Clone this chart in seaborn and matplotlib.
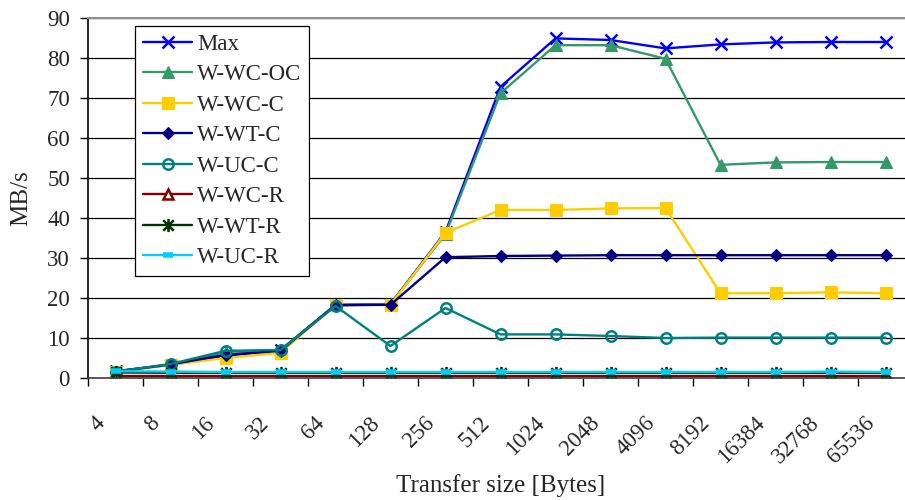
import numpy as np
import pandas as pd
import matplotlib
matplotlib.use("Agg")
import matplotlib.pyplot as plt
import matplotlib.transforms as mtransforms
from matplotlib.path import Path
import seaborn as sns

# Transfer sizes in bytes (categorical x axis)
sizes = ["4", "8", "16", "32", "64", "128", "256", "512", "1024",
         "2048", "4096", "8192", "16384", "32768", "65536"]

# Throughput in MB/s for each write variant
max_bw   = [1.7, 3.3, 5.5, 7.0, 18.3, 18.5, 36.5, 72.8, 84.9, 84.5, 82.4, 83.4, 83.9, 84.0, 84.0]
w_wc_oc  = [1.6, 3.3, 6.5, 7.0, 18.2, 18.4, 36.0, 71.2, 83.2, 83.2, 79.8, 53.3, 53.9, 54.0, 54.0]
w_wc_c   = [1.5, 3.3, 5.0, 6.3, 18.2, 18.3, 36.3, 42.0, 42.0, 42.4, 42.5, 21.2, 21.2, 21.4, 21.2]
w_wt_c   = [1.6, 3.4, 5.8, 6.8, 18.2, 18.3, 30.2, 30.5, 30.6, 30.7, 30.7, 30.7, 30.7, 30.7, 30.7]
w_uc_c   = [1.6, 3.5, 6.8, 7.0, 18.0, 8.0, 17.5, 10.9, 10.9, 10.5, 10.0, 10.1, 10.1, 10.1, 10.1]
w_wc_r   = [0.4, 0.4, 0.4, 0.4, 0.4, 0.4, 0.4, 0.4, 0.4, 0.4, 0.4, 0.4, 0.4, 0.4, 0.4]
w_wt_r   = [1.4, 1.3, 1.3, 1.3, 1.3, 1.3, 1.3, 1.3, 1.3, 1.3, 1.3, 1.3, 1.3, 1.3, 1.3]
w_uc_r   = [1.7, 1.6, 1.5, 1.5, 1.5, 1.5, 1.5, 1.5, 1.5, 1.5, 1.5, 1.5, 1.5, 1.6, 1.5]

series_names = ["Max", "W-WC-OC", "W-WC-C", "W-WT-C", "W-UC-C", "W-WC-R", "W-WT-R", "W-UC-R"]
series_vals = [max_bw, w_wc_oc, w_wc_c, w_wt_c, w_uc_c, w_wc_r, w_wt_r, w_uc_r]

# asterisk marker: vertical stroke plus an x
asterisk = Path([(0, -1), (0, 1), (-0.8, -0.8), (0.8, 0.8), (-0.8, 0.8), (0.8, -0.8)],
                [Path.MOVETO, Path.LINETO, Path.MOVETO, Path.LINETO, Path.MOVETO, Path.LINETO])

styles = {
    "Max":     dict(color="#0000FF", marker="x", markersize=8.5, markeredgewidth=1.8,
                    markeredgecolor="#0000FF", markerfacecolor="#0000FF"),
    "W-WC-OC": dict(color="#339966", marker="^", markersize=9, markeredgewidth=0.8,
                    markeredgecolor="#339966", markerfacecolor="#339966"),
    "W-WC-C":  dict(color="#FFCC00", marker="s", markersize=9, markeredgewidth=0.8,
                    markeredgecolor="#FFCC00", markerfacecolor="#FFCC00"),
    "W-WT-C":  dict(color="#000080", marker="D", markersize=6.5, markeredgewidth=0.8,
                    markeredgecolor="#000080", markerfacecolor="#000080"),
    "W-UC-C":  dict(color="#008080", marker="o", markersize=7.5, markeredgewidth=1.8,
                    markeredgecolor="#008080", markerfacecolor="none"),
    "W-WC-R":  dict(color="#800000", marker="^", markersize=7.5, markeredgewidth=1.8,
                    markeredgecolor="#800000", markerfacecolor="white"),
    "W-WT-R":  dict(color="#003300", marker=asterisk, markersize=9.5, markeredgewidth=1.8,
                    markeredgecolor="#003300", markerfacecolor="#003300"),
    "W-UC-R":  dict(color="#00CCFF", marker="_", markersize=7, markeredgewidth=4,
                    markeredgecolor="#00CCFF", markerfacecolor="#00CCFF"),
}

df = pd.DataFrame({"size": np.tile(np.arange(len(sizes)), len(series_names)),
                   "series": np.repeat(series_names, len(sizes)),
                   "mbps": np.concatenate(series_vals)})

sns.set_style("white")
plt.rcParams["font.family"] = ["Liberation Serif", "DejaVu Serif"]
plt.rcParams["font.size"] = 16.5

fig = plt.figure(figsize=(9.05, 5.0), dpi=100)
W, H = 905, 500
x0, x1, y0, y1 = 88, 913, 18, 378
ax = fig.add_axes([x0 / W, 1 - y1 / H, (x1 - x0) / W, (y1 - y0) / H])

for name in series_names:
    sub = df[df["series"] == name]
    sns.lineplot(data=sub, x="size", y="mbps", ax=ax, label=name,
                 linewidth=1.7, **styles[name])

ax.set_xlim(-0.5, len(sizes) - 0.5)
ax.set_ylim(0, 90)
ax.set_yticks(np.arange(0, 91, 10))
ax.grid(axis="y", color="black", linewidth=0.9)
ax.set_axisbelow(True)

for s in ["left", "bottom"]:
    ax.spines[s].set_color("black")
    ax.spines[s].set_linewidth(1.2)
ax.spines["bottom"].set_color("#404040")
ax.spines["top"].set_color("#909090")
ax.spines["top"].set_linewidth(1.5)
ax.spines["right"].set_visible(False)

# tick marks between categories, labels at category centers
ax.set_xticks(np.arange(-0.5, len(sizes), 1.0))
ax.set_xticklabels([])
ax.set_xticks(np.arange(len(sizes)), minor=True)
ax.set_xticklabels(sizes, minor=True, rotation=45, ha="right", va="center",
                   rotation_mode="anchor", fontsize=16.5)
ax.tick_params(axis="x", which="major", direction="out", length=6, width=1, color="black", bottom=True)
ax.tick_params(axis="x", which="minor", length=0, pad=30)
ax.tick_params(axis="y", direction="out", length=6, width=1, color="black", left=True,
               labelsize=16.5, pad=7)
shift = mtransforms.ScaledTranslation(-14 / 100, 0, fig.dpi_scale_trans)
for lbl in ax.get_xticklabels(minor=True):
    lbl.set_transform(lbl.get_transform() + shift)

ax.set_xlabel("Transfer size [Bytes]", fontsize=18)
ax.xaxis.set_label_coords(0.5, (y1 - 474) / (y1 - y0))
ax.set_ylabel("MB/s", fontsize=18)
ax.yaxis.set_label_coords((32 - x0) / (x1 - x0), 0.5)

leg = ax.legend(loc="upper left", bbox_to_anchor=((135 - x0) / (x1 - x0), (y1 - 26) / (y1 - y0)),
                borderaxespad=0, frameon=True, fancybox=False, framealpha=1,
                edgecolor="black", fontsize=16.5, borderpad=0.35, labelspacing=0.41,
                handlelength=2.15, handletextpad=0.2)
leg.get_frame().set_linewidth(0.9)

fig.savefig("out.png", dpi=100)
